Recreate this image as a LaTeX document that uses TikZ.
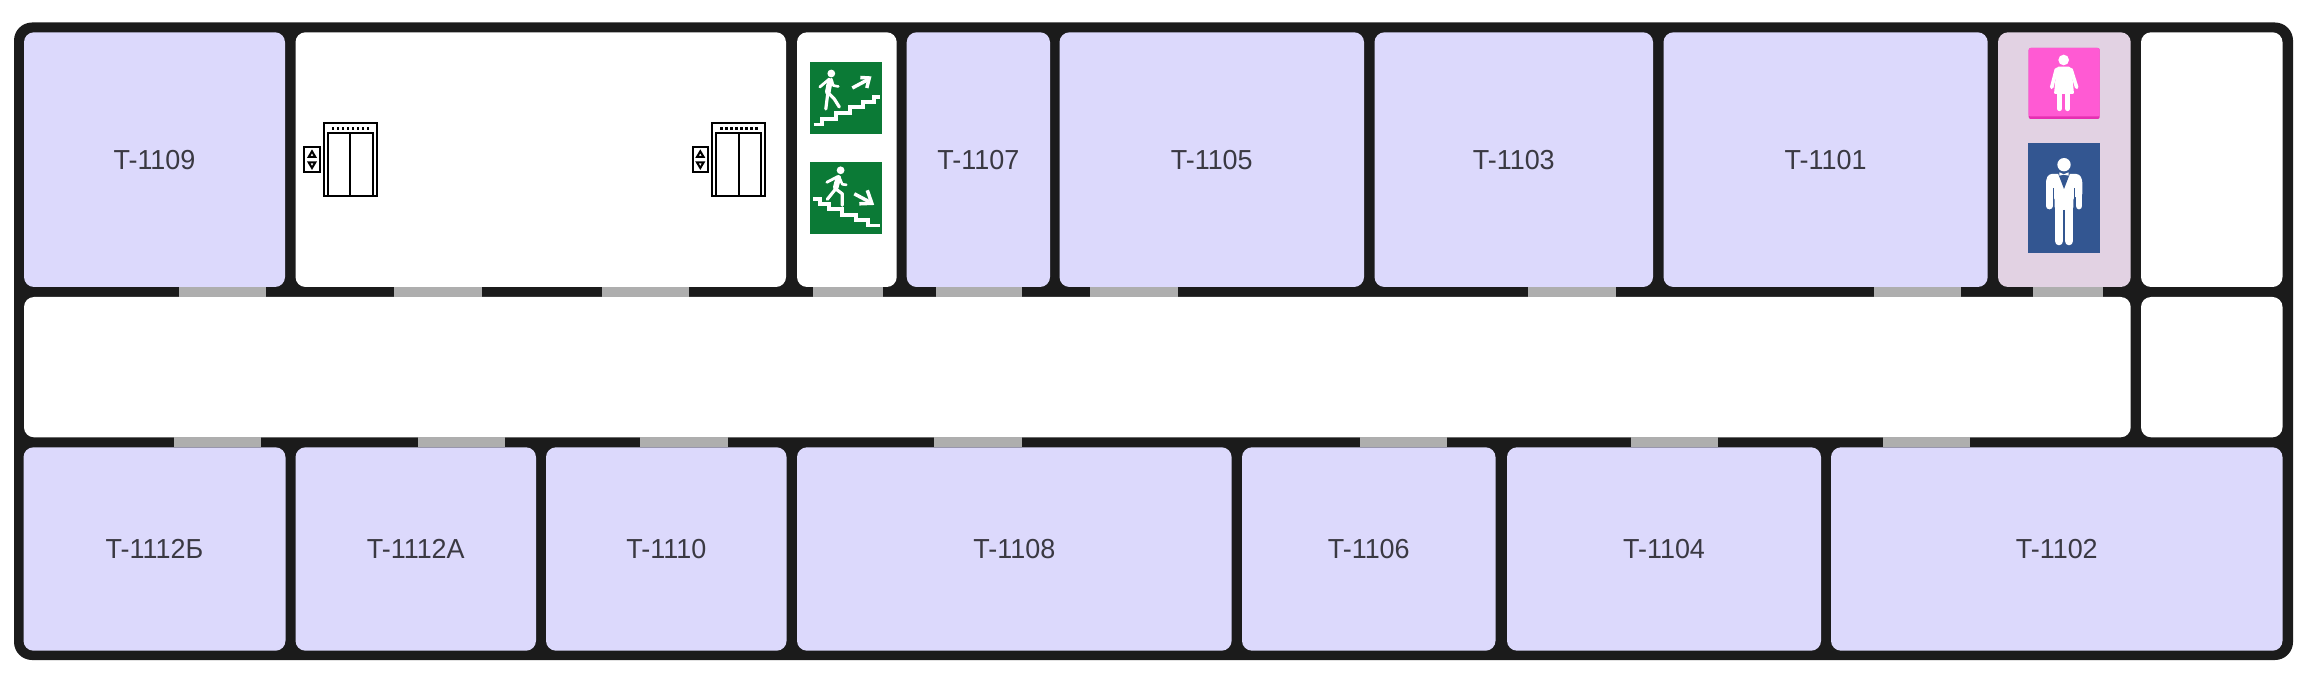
\documentclass[tikz,border=0pt]{standalone}
\usepackage{fontspec}
\setmainfont[FakeStretch=0.98]{Liberation Sans}
\definecolor{wallc}{HTML}{1B1B1B}
\definecolor{roomc}{HTML}{DCD9FC}
\definecolor{wcc}{HTML}{E2D2E3}
\definecolor{doorc}{HTML}{AEAEAE}
\definecolor{textc}{HTML}{3A3942}
\definecolor{greenc}{HTML}{0B7A36}
\definecolor{pinkc}{HTML}{FF5AD3}
\definecolor{pinkd}{HTML}{E62FB2}
\definecolor{bluec}{HTML}{335691}
\tikzset{
  base/.style={rectangle,inner sep=0pt,outer sep=0pt,rounded corners=10pt,
    text=textc,font=\fontsize{27.5}{30}\selectfont},
  office/.style={base,fill=roomc},
  blank/.style={base,fill=white},
  wcroom/.style={base,fill=wcc},
  doorway/.style={rectangle,fill=doorc,inner sep=0pt,outer sep=0pt},
  sl/.style={white,line width=3.7pt,line join=miter,line cap=butt},
  limb/.style={white,line cap=round,line join=round},
  zoomed/.style={x=0.33333pt,y=-0.33333pt},
  liftline/.style={black,line width=2.2pt}
}
\newcommand{\roomat}[7]{%
  \node[#6,minimum width={(#4-#2)*1pt},minimum height={(#5-#3)*1pt}] (#1)
    at ({(#2+#4)/2},{(#3+#5)/2}) {#7};}
\newcommand{\dooron}[5]{%
  \node[doorway,minimum width={(#4-#2)*1pt},minimum height={(#5-#3)*1pt}] (#1)
    at ({(#2+#4)/2},{(#3+#5)/2}) {};}
\newcommand{\liftsym}[1]{%
  \begin{scope}[shift={(#1,0)},zoomed]
    \draw[liftline,fill=white] (972,370) rectangle (1130,588);
    \draw[liftline] (984,400) rectangle (1118,588);
    \draw[liftline] (1051,400) -- (1051,588);
    \foreach \d in {0,...,7}{\fill[black] ({999+15*\d-4},381) rectangle ++(8,8);}
    \draw[liftline,fill=white] (913,440) rectangle (960,516);
    \draw[black,line width=2pt,fill=white,line join=miter] (936,454) -- (946,471) -- (926,471) -- cycle;
    \draw[black,line width=2pt,fill=white,line join=miter] (926,487) -- (946,487) -- (936,504) -- cycle;
  \end{scope}}
\begin{document}
\begin{tikzpicture}[x=1pt,y=-1pt]
\useasboundingbox (0,0) rectangle (2310,676);
\fill[wallc,rounded corners=18pt] (14,22.5) rectangle (2293,660);
% top row
\roomat{r1109}{24}{32.3}{285}{287}{office}{T-1109}
\roomat{lifthall}{295.5}{32.3}{786}{287}{blank}{}
\roomat{stairs}{797}{32.3}{896.7}{287}{blank}{}
\roomat{r1107}{906.7}{32.3}{1050}{287}{office}{T-1107}
\roomat{r1105}{1059.5}{32.3}{1364}{287}{office}{T-1105}
\roomat{r1103}{1374.5}{32.3}{1653}{287}{office}{T-1103}
\roomat{r1101}{1663.5}{32.3}{1987.7}{287}{office}{T-1101}
\roomat{wc}{1998}{32.3}{2130.7}{287}{wcroom}{}
\roomat{corner}{2141}{32.3}{2282.5}{287}{blank}{}
% middle row
\roomat{corridor}{24}{297}{2130.7}{437.3}{blank}{}
\roomat{sideroom}{2141}{297}{2282.5}{437.3}{blank}{}
% bottom row
\roomat{r1112b}{23.5}{447.3}{285.5}{650.7}{office}{T-1112Б}
\roomat{r1112a}{295.5}{447.3}{536}{650.7}{office}{T-1112А}
\roomat{r1110}{546}{447.3}{786.6}{650.7}{office}{T-1110}
\roomat{r1108}{797}{447.3}{1231.6}{650.7}{office}{T-1108}
\roomat{r1106}{1242}{447.3}{1495.5}{650.7}{office}{T-1106}
\roomat{r1104}{1507}{447.3}{1821}{650.7}{office}{T-1104}
\roomat{r1102}{1831}{447.3}{2282.5}{650.7}{office}{T-1102}
% doors
\dooron{d1}{178.7}{287}{266.3}{297}
\dooron{d2}{394}{287}{481.7}{297}
\dooron{d3}{601.5}{287}{689.3}{297}
\dooron{d4}{813}{287}{882.7}{297}
\dooron{d5}{935.5}{287}{1022.4}{297}
\dooron{d6}{1090}{287}{1177.5}{297}
\dooron{d7}{1528}{287}{1616}{297}
\dooron{d8}{1874}{287}{1961}{297}
\dooron{d9}{2033.3}{287}{2103}{297}
\dooron{e1}{174}{437.3}{261}{447.3}
\dooron{e2}{418}{437.3}{505}{447.3}
\dooron{e3}{640}{437.3}{727.5}{447.3}
\dooron{e4}{934}{437.3}{1022}{447.3}
\dooron{e5}{1360}{437.3}{1447}{447.3}
\dooron{e6}{1631}{437.3}{1718}{447.3}
\dooron{e7}{1883}{437.3}{1970}{447.3}
% lifts
\liftsym{0}
\liftsym{388.3}
% stairs up sign
\fill[greenc] (810.3,62) rectangle (882,133.7);
\begin{scope}[shift={(810.3,62)}]
  \draw[sl] (3.3,62.6) -- (12,62.6) -- (12,56.8) -- (26,56.8) -- (26,51) -- (40,51) -- (40,45.2) -- (53,45.2) -- (53,39.8) -- (64,39.8) -- (64,35.2) -- (70,35.2);
  \fill[white] (21,11.5) circle[radius=3.9];
  \draw[limb,line width=5.6pt] (19.5,19.5) -- (17.5,30);
  \draw[limb,line width=2.8pt] (19,17) -- (9.5,25);
  \draw[limb,line width=2.6pt] (21,17) -- (23,23.5) -- (28,24.5);
  \draw[limb,line width=3.2pt] (17.5,31) -- (15.5,47);
  \draw[limb,line width=3.2pt] (18,31) -- (24,37) -- (29,45);
  \draw[sl,line width=3.5pt] (42,26) -- (57,18);
  \draw[sl,line width=3.5pt] (50,15.5) -- (59,16) -- (56.5,26);
\end{scope}
% stairs down sign
\fill[greenc] (810.3,162.3) rectangle (882,234);
\begin{scope}[shift={(810.3,162.3)}]
  \draw[sl] (3,36.7) -- (9.7,36.7) -- (9.7,41.5) -- (19,41.5) -- (19,47) -- (32,47) -- (32,52.5) -- (45.7,52.5) -- (45.7,58) -- (58,58) -- (58,63.2) -- (69.7,63.2);
  \fill[white] (30.3,8) circle[radius=3.9];
  \draw[limb,line width=5.6pt] (28,15.5) -- (25.5,25);
  \draw[limb,line width=2.8pt] (27,14.5) -- (16.5,20);
  \draw[limb,line width=2.6pt] (29,15) -- (32,22) -- (36,22.5);
  \draw[limb,line width=3.2pt] (25,27) -- (17,37);
  \draw[limb,line width=3.2pt] (26,27) -- (32,31.5) -- (32,43);
  \draw[sl,line width=3.5pt] (44,31.5) -- (59,39.5);
  \draw[sl,line width=3.5pt] (57,28) -- (61.5,41) -- (49,41.5);
\end{scope}
% female sign
\fill[pinkd,rounded corners=2pt] (2028.7,48) rectangle (2099.7,119);
\fill[pinkc,rounded corners=2pt] (2028.7,48) rectangle (2099.7,116.5);
\begin{scope}[shift={(1970,10)},zoomed]
  \fill[white] (281,150) circle[radius=16];
  \draw[limb,line width=3.6pt] (259,178) -- (245,232);
  \draw[limb,line width=3.6pt] (303,178) -- (320,232);
  \fill[white,rounded corners=1pt] (262,170) -- (300,170) -- (306,190) -- (312,252) -- (252,252) -- (258,190) -- cycle;
  \draw[limb,line width=5pt] (268,250) -- (268,296);
  \draw[limb,line width=5pt] (293,250) -- (293,296);
\end{scope}
% male sign
\fill[bluec] (2028.3,143.3) rectangle (2100,253);
\begin{scope}[shift={(1970,10)},zoomed]
  \fill[white] (282,464) circle[radius=20];
  \fill[white,rounded corners=3pt] (228,510) -- (236,492) -- (328,492) -- (337,510) -- (337,560) -- (310,560) -- (310,600) -- (254,600) -- (254,560) -- (228,560) -- cycle;
  \draw[limb,line width=6.8pt] (238,515) -- (238,588);
  \draw[limb,line width=6.8pt] (327,515) -- (327,588);
  \draw[limb,line width=8.6pt] (267,590) -- (267,693);
  \draw[limb,line width=8.6pt] (297,590) -- (297,693);
  \draw[bluec,line width=1pt] (282,600) -- (282,708);
  \draw[bluec,line width=1pt] (251,535) -- (251,605);
  \draw[bluec,line width=1pt] (313,535) -- (313,605);
  \fill[bluec] (264,490) -- (300,490) -- (282,537) -- cycle;
  \fill[white] (268,487) -- (281,493) -- (296,487) -- (296,497) -- (281,494) -- (268,497) -- cycle;
\end{scope}
\end{tikzpicture}
\end{document}
